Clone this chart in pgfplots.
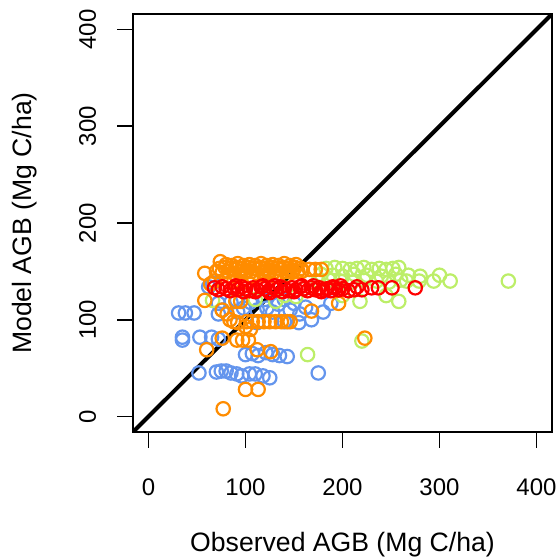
\documentclass[border=0pt]{standalone}
\usepackage{pgfplots}
\pgfplotsset{compat=1.18}
\usepackage{fontspec}
\setmainfont{Liberation Sans}

\definecolor{cblue}{RGB}{100,149,237}
\definecolor{corange}{RGB}{255,140,0}
\definecolor{cgreen}{RGB}{188,238,104}
\definecolor{cred}{RGB}{255,0,0}

\newcommand{\rfont}{\fontsize{12}{14}\selectfont}
\newcommand{\lfont}{\fontsize{13.3}{15}\selectfont}

\begin{document}
\begin{tikzpicture}
  \path[use as bounding box] (-66.5pt,-64pt) rectangle (213pt,216pt);
  \begin{axis}[
    at={(0,0)}, anchor=south west,
    scale only axis, width=209.5pt, height=209pt,
    xmin=-16, xmax=416, ymin=-16, ymax=416,
    xtick={0,100,200,300,400}, ytick={0,100,200,300,400},
    xticklabels={0,100,200,300,400}, yticklabels={0,100,200,300,400},
    xtick pos=bottom, ytick pos=left,
    tick align=outside, major tick length=8pt,
    tick style={black, line width=0.9pt},
    axis line style={line width=0.9pt},
    xticklabel style={font=\rfont, anchor=base, inner sep=0pt, yshift=-23.5pt},
    yticklabel style={font=\rfont, xshift=-10.5pt, rotate=90, anchor=base, inner sep=0pt},
    xlabel={Observed AGB (Mg C/ha)}, ylabel={Model AGB (Mg C/ha)},
    xlabel style={font=\lfont, at={(axis description cs:0.5,-0.2865)}, anchor=base, inner sep=0pt},
    ylabel style={font=\lfont, at={(axis description cs:-0.2411,0.5)}, rotate=0, anchor=base, inner sep=0pt},
    clip=true,
    only marks,
    every axis plot/.append style={mark=o, mark size=3.35pt},
  ]
    % blue
    \addplot[mark options={cblue, line width=1.1pt}] coordinates {
      (31,107) (38,107) (47,107) (35,82) (35,79) (53,82) (65,82) (72,80)
      (52,45) (70,46) (75,47) (80,47) (85,45) (91,44) (96,42) (104,44)
      (110,44) (118,42) (125,40) (100,64) (107,65) (113,63) (121,66) (128,64)
      (135,63) (143,62) (175,45) (66,138) (62,134) (72,117) (76,110) (72,106)
      (91,120) (92,108) (112,97) (85,118) (98,112) (105,118) (112,110) (120,121)
      (128,108) (134,116) (140,121) (146,110) (150,117) (156,106) (162,113)
      (168,100) (188,117) (155,97) (140,98) (180,108) (122,112)
    };
    % green
    \addplot[mark options={cgreen, line width=1.1pt}] coordinates {
      (183,153) (192,154) (200,153) (208,152) (215,153) (222,154) (230,152)
      (238,153) (245,152) (252,153) (258,154)
      (178,147) (190,146) (200,145) (212,147) (225,146) (240,145) (255,147)
      (268,146) (280,145) (300,146)
      (175,140) (186,141) (198,140) (210,139) (222,141) (235,140) (248,139)
      (260,141) (266,140) (279,140) (294,140) (311,140) (371,140)
      (258,119) (218,119) (164,64) (220,78) (131,119) (152,124) (66,120)
      (110,121) (200,125) (245,125) (160,132) (140,125)
    };
    % orange
    \addplot[mark options={corange, line width=1.1pt}] coordinates {
      (74,160) (58,148) (64,137) (68,140) (88,140) (95,138)
      (80,157) (86,156) (92,158) (98,156) (104,157) (110,156) (116,158)
      (122,156) (128,157) (134,156) (140,158) (146,156) (152,157)
      (70,150) (76,149) (82,150) (88,148) (94,150) (100,149) (106,150)
      (112,148) (118,150) (124,149) (130,150) (136,148) (142,150) (148,149)
      (154,150) (158,150)
      (73,153) (79,154) (85,153) (91,154) (97,153) (103,154) (109,153)
      (115,154) (121,153) (127,154) (133,153) (139,154) (145,153) (151,154)
      (157,153)
      (83,145) (95,146) (107,145) (119,146) (131,145) (143,146)
      (89,152) (101,151) (113,152) (125,151) (137,152) (149,151)
      (166,152) (172,152) (178,152)
      (58,120) (76,110) (84,100) (92,97) (97,79) (91,79) (103,79)
      (90,119) (95,119) (81,106) (88,98) (100,93) (105,90)
      (101,98) (107,98) (113,98) (119,98) (125,98) (131,98) (137,98)
      (143,98) (146,98)
      (60,69) (76,81) (112,69) (126,67) (100,28) (113,28) (77,8)
      (223,81) (168,109) (196,117)
    };
    % red
    \addplot[mark options={cred, line width=1.1pt}] coordinates {
      (68,133) (72,131) (76,134) (80,132) (84,130) (88,133) (92,131)
      (96,134) (100,132) (104,130) (108,133) (112,131) (116,134) (120,132)
      (124,130) (128,133) (132,131) (136,134) (140,132) (144,130) (148,133)
      (152,131) (156,134) (160,132) (164,130) (168,133) (172,131) (176,133)
      (180,131) (184,132) (188,130) (192,133) (196,131) (200,132) (206,130)
      (212,131) (220,131) (230,133) (237,133) (251,133) (275,133)
      (90,135) (110,129) (130,135) (150,129) (170,135) (190,134) (125,128)
      (98,129) (118,135) (138,129) (158,135) (178,129) (198,135) (215,134)
    };
    % 1:1 line
    \addplot[black, line width=2pt, no markers, sharp plot] coordinates {(-30,-30) (430,430)};
  \end{axis}
\end{tikzpicture}
\end{document}
